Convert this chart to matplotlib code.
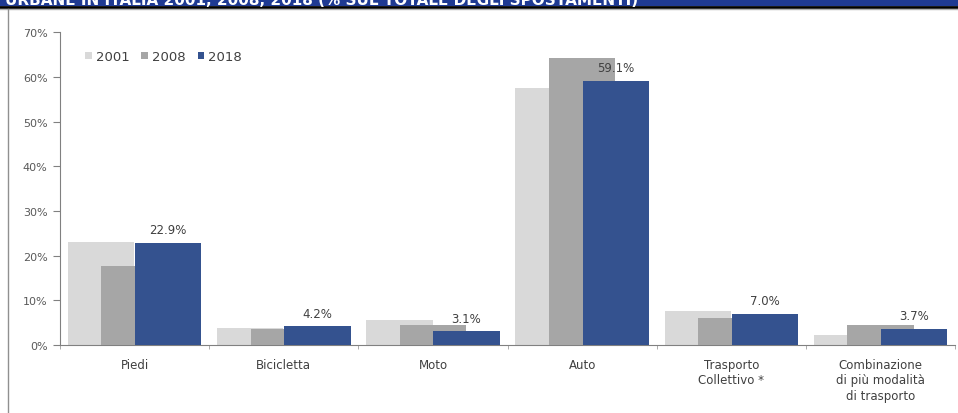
import numpy as np
import matplotlib.pyplot as plt
from matplotlib.patches import Rectangle
from matplotlib.lines import Line2D

# dati (% sul totale degli spostamenti)
categorie = ['Piedi', 'Bicicletta', 'Moto', 'Auto', 'Trasporto\nCollettivo *',
             'Combinazione\ndi più modalità\ndi trasporto']
anni = ['2001', '2008', '2018']
v2001 = [23.0, 3.8, 5.7, 57.6, 7.7, 2.2]
v2008 = [17.7, 3.6, 4.5, 64.3, 6.0, 4.5]
v2018 = [22.9, 4.2, 3.1, 59.1, 7.0, 3.7]
etichette_2018 = ['22.9%', '4.2%', '3.1%', '59.1%', '7.0%', '3.7%']

colori = ['#d9d9d9', '#a6a6a6', '#34528f']

fig = plt.figure(figsize=(9.58, 4.14), dpi=100)
ax = fig.add_axes([0.0626, 0.164, 0.9344, 0.756])

x = np.arange(len(categorie))
w = 0.445
step = 0.225
for i, (serie, col) in enumerate(zip([v2001, v2008, v2018], colori)):
    ax.bar(x + (i - 1) * step, serie, width=w, color=col, label=anni[i], zorder=2 + i)

# etichette sopra le barre 2018
for xi, v, t in zip(x, v2018, etichette_2018):
    ax.text(xi + step, v + 1.5, t, ha='center', va='bottom', fontsize=8.5, color='#404040', zorder=6)

ax.set_xlim(-0.5, len(categorie) - 0.5)
ax.set_ylim(0, 70)
ax.set_yticks(np.arange(0, 71, 10))
ax.set_yticklabels(['%d%%' % v for v in range(0, 71, 10)], fontsize=8, color='#595959')
ax.set_xticks(x)
ax.set_xticklabels(categorie, fontsize=8.5, color='#404040', linespacing=1.25)
ax.tick_params(axis='x', length=0, pad=9)
ax.set_xticks(np.arange(-0.5, len(categorie), 1.0), minor=True)
ax.tick_params(axis='x', which='minor', length=3, color='#a0a0a0', direction='out')
ax.tick_params(axis='y', length=5, color='#808080', pad=4)

for s in ['top', 'right']:
    ax.spines[s].set_visible(False)
ax.spines['left'].set_color('#808080')
ax.spines['bottom'].set_color('#808080')

leg = ax.legend(loc='upper left', bbox_to_anchor=(0.015, 0.98), ncol=3, frameon=False,
                fontsize=9.5, handlelength=0.5, handleheight=0.5, handletextpad=0.3,
                columnspacing=0.9)
for t in leg.get_texts():
    t.set_color('#404040')

# banda del titolo, tagliata in alto
fig.patches.append(Rectangle((0, 1 - 7 / 414), 1, 7 / 414, transform=fig.transFigure,
                             facecolor='#1f3a93', edgecolor='none', zorder=0))
fig.lines.append(Line2D([0, 1], [1 - 8 / 414, 1 - 8 / 414], transform=fig.transFigure,
                        color='black', lw=2))
fig.lines.append(Line2D([0, 1], [1 - 10 / 414, 1 - 10 / 414], transform=fig.transFigure,
                        color='#b0b0b0', lw=1))
fig.text(0.005, 1 - 5 / 414, 'URBANE IN ITALIA 2001, 2008, 2018 (% SUL TOTALE DEGLI SPOSTAMENTI)',
         color='white', fontsize=11, fontweight='bold', va='baseline', ha='left')
fig.lines.append(Line2D([8 / 958, 8 / 958], [0, 1 - 10 / 414], transform=fig.transFigure,
                        color='#909090', lw=1))

fig.savefig('out.png', dpi=100)
